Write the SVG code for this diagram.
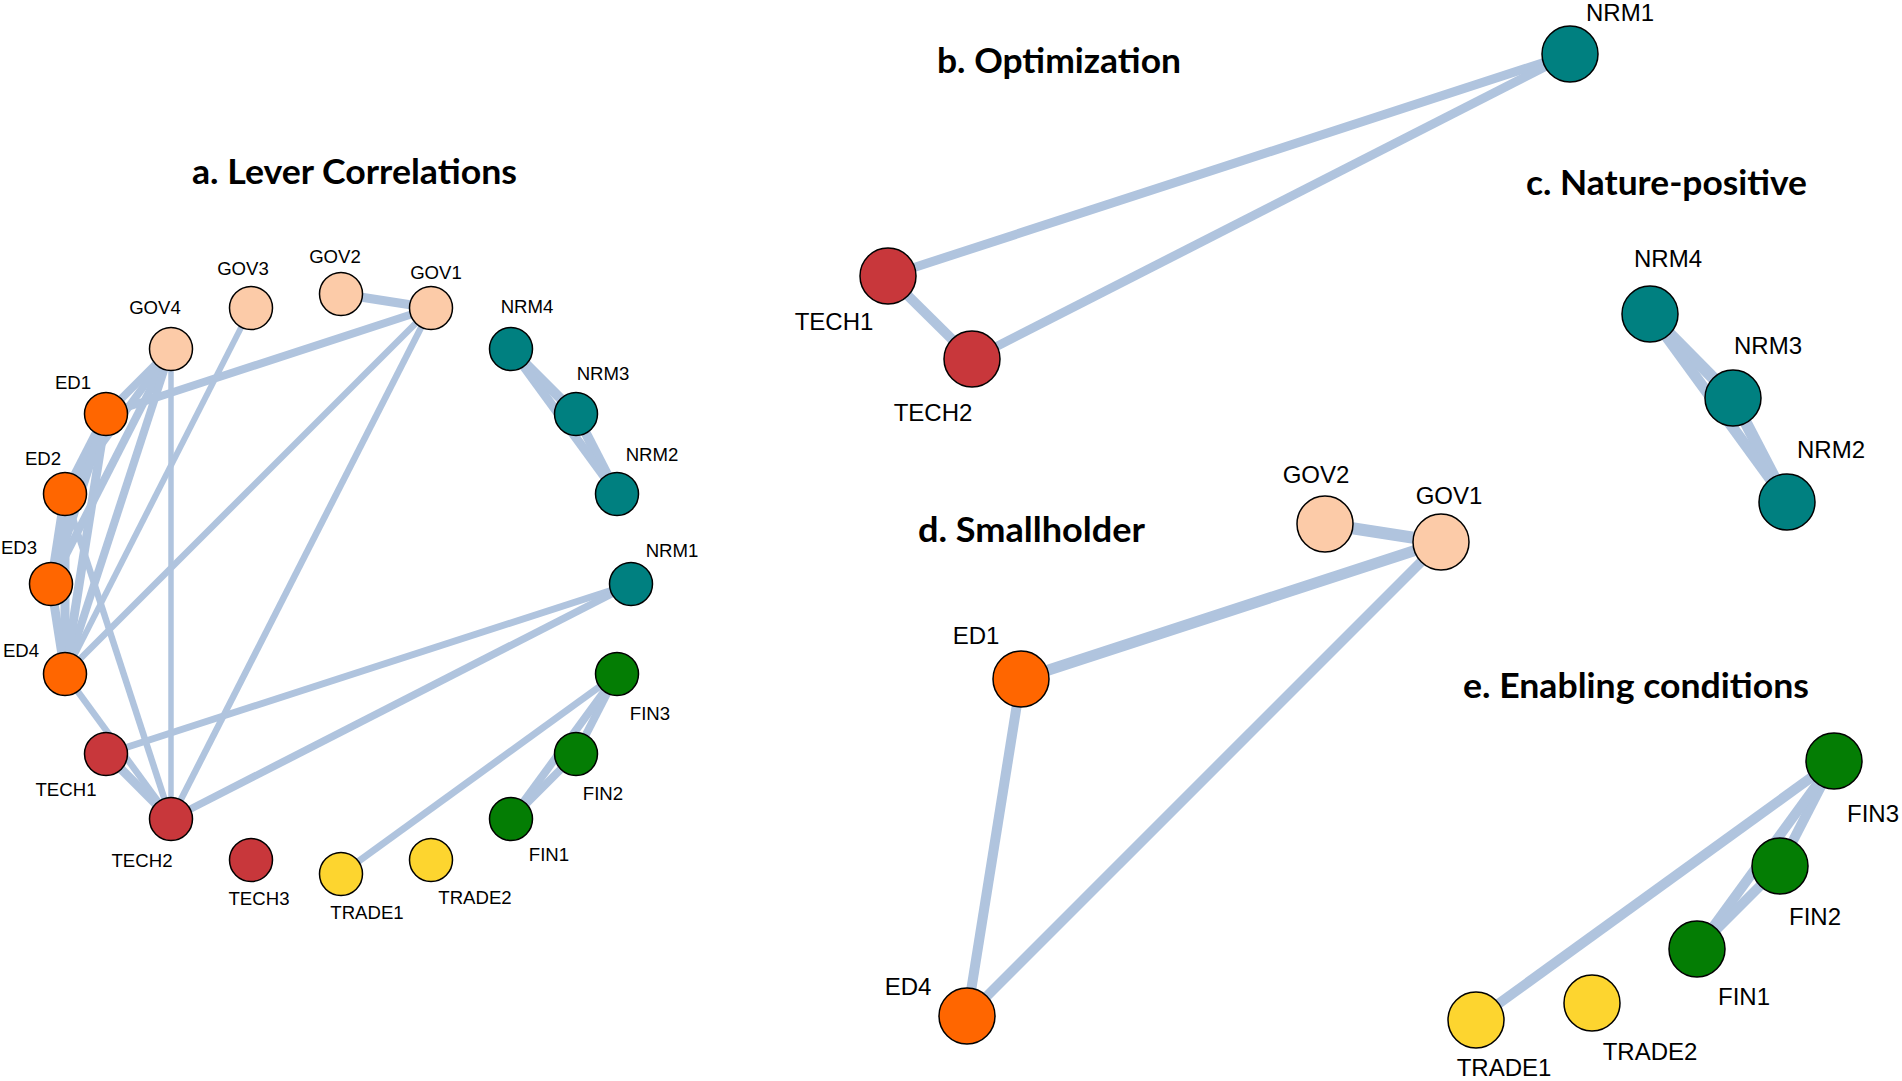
<svg xmlns="http://www.w3.org/2000/svg" width="1902" height="1081" viewBox="0 0 1902 1081">
<style>
.e{stroke:#b0c4de;fill:none}
.n{stroke:#000;stroke-width:1.5}
.gov{fill:#fccba8}.ed{fill:#ff6600}.tech{fill:#c8373b}.nrm{fill:#008080}.fin{fill:#047d04}.trade{fill:#fdd52f}
.t{font-family:Lato,"Open Sans","Liberation Sans",sans-serif;font-weight:700;font-size:34px;fill:#000}
.la{font-family:"Liberation Sans",Arial,sans-serif;font-size:18.6px;fill:#000;text-anchor:middle}
.lb{font-family:"Liberation Sans",Arial,sans-serif;font-size:24px;fill:#000;text-anchor:middle}
</style>
<rect width="1902" height="1081" fill="#fff"/>
<g id="titles">
<text class="t" x="192" y="184" textLength="325" lengthAdjust="spacingAndGlyphs">a. Lever Correlations</text>
<text class="t" x="937" y="73" textLength="244" lengthAdjust="spacingAndGlyphs">b. Optimization</text>
<text class="t" x="1526" y="195" textLength="281" lengthAdjust="spacingAndGlyphs">c. Nature-positive</text>
<text class="t" x="918" y="542" textLength="227" lengthAdjust="spacingAndGlyphs">d. Smallholder</text>
<text class="t" x="1463" y="698" textLength="346" lengthAdjust="spacingAndGlyphs">e. Enabling conditions</text>
</g>
<g id="connectors">
<!-- panel a -->
<line class="e" x1="341" y1="294" x2="431" y2="308" stroke-width="9"/>
<line class="e" x1="431" y1="308" x2="106" y2="414" stroke-width="8"/>
<line class="e" x1="431" y1="308" x2="65" y2="674" stroke-width="6.5"/>
<line class="e" x1="431" y1="308" x2="171" y2="819" stroke-width="6.5"/>
<line class="e" x1="251" y1="308" x2="65" y2="674" stroke-width="6"/>
<line class="e" x1="171" y1="349" x2="171" y2="819" stroke-width="5.5"/>
<line class="e" x1="171" y1="349" x2="106" y2="414" stroke-width="8"/>
<line class="e" x1="171" y1="349" x2="65" y2="494" stroke-width="8"/>
<line class="e" x1="171" y1="349" x2="51" y2="584" stroke-width="8"/>
<line class="e" x1="171" y1="349" x2="65" y2="674" stroke-width="8"/>
<line class="e" x1="106" y1="414" x2="65" y2="494" stroke-width="9"/>
<line class="e" x1="106" y1="414" x2="51" y2="584" stroke-width="9"/>
<line class="e" x1="106" y1="414" x2="65" y2="674" stroke-width="9"/>
<line class="e" x1="65" y1="494" x2="51" y2="584" stroke-width="9"/>
<line class="e" x1="65" y1="494" x2="65" y2="674" stroke-width="9"/>
<line class="e" x1="51" y1="584" x2="65" y2="674" stroke-width="9"/>
<line class="e" x1="65" y1="494" x2="171" y2="819" stroke-width="6.5"/>
<line class="e" x1="65" y1="674" x2="171" y2="819" stroke-width="6.5"/>
<line class="e" x1="106" y1="754" x2="171" y2="819" stroke-width="9"/>
<line class="e" x1="106" y1="754" x2="631" y2="584" stroke-width="7"/>
<line class="e" x1="171" y1="819" x2="631" y2="584" stroke-width="7.5"/>
<line class="e" x1="511" y1="349" x2="576" y2="414" stroke-width="10"/>
<line class="e" x1="576" y1="414" x2="617" y2="494" stroke-width="10"/>
<line class="e" x1="511" y1="349" x2="617" y2="494" stroke-width="9"/>
<line class="e" x1="617" y1="674" x2="576" y2="754" stroke-width="8"/>
<line class="e" x1="617" y1="674" x2="511" y2="819" stroke-width="8"/>
<line class="e" x1="576" y1="754" x2="511" y2="819" stroke-width="8"/>
<line class="e" x1="617" y1="674" x2="341" y2="874" stroke-width="7"/>
<!-- panel b -->
<line class="e" x1="888" y1="276" x2="1570" y2="54" stroke-width="9"/>
<line class="e" x1="972" y1="359" x2="1570" y2="54" stroke-width="9"/>
<line class="e" x1="888" y1="276" x2="972" y2="359" stroke-width="10"/>
<!-- panel c -->
<line class="e" x1="1650" y1="314" x2="1733" y2="398" stroke-width="12"/>
<line class="e" x1="1733" y1="398" x2="1787" y2="502" stroke-width="12"/>
<line class="e" x1="1650" y1="314" x2="1787" y2="502" stroke-width="11"/>
<!-- panel d -->
<line class="e" x1="1325" y1="524" x2="1441" y2="542" stroke-width="12"/>
<line class="e" x1="1441" y1="542" x2="1021" y2="679" stroke-width="11"/>
<line class="e" x1="1441" y1="542" x2="967" y2="1016" stroke-width="10"/>
<line class="e" x1="1021" y1="679" x2="967" y2="1016" stroke-width="10"/>
<!-- panel e -->
<line class="e" x1="1834" y1="761" x2="1476" y2="1020" stroke-width="10"/>
<line class="e" x1="1834" y1="761" x2="1780" y2="866" stroke-width="10"/>
<line class="e" x1="1834" y1="761" x2="1697" y2="949" stroke-width="10"/>
<line class="e" x1="1780" y1="866" x2="1697" y2="949" stroke-width="10"/>
</g>
<g id="panel-a">
<g id="a-GOV2"><circle class="n gov" cx="341" cy="294" r="21.5"/><text class="la" x="335" y="263">GOV2</text></g>
<g id="a-GOV1"><circle class="n gov" cx="431" cy="308" r="21.5"/><text class="la" x="436" y="279">GOV1</text></g>
<g id="a-NRM4"><circle class="n nrm" cx="511" cy="349" r="21.5"/><text class="la" x="527" y="313">NRM4</text></g>
<g id="a-NRM3"><circle class="n nrm" cx="576" cy="414" r="21.5"/><text class="la" x="603" y="380">NRM3</text></g>
<g id="a-NRM2"><circle class="n nrm" cx="617" cy="494" r="21.5"/><text class="la" x="652" y="461">NRM2</text></g>
<g id="a-NRM1"><circle class="n nrm" cx="631" cy="584" r="21.5"/><text class="la" x="672" y="557">NRM1</text></g>
<g id="a-FIN3"><circle class="n fin" cx="617" cy="674" r="21.5"/><text class="la" x="650" y="720">FIN3</text></g>
<g id="a-FIN2"><circle class="n fin" cx="576" cy="754" r="21.5"/><text class="la" x="603" y="800">FIN2</text></g>
<g id="a-FIN1"><circle class="n fin" cx="511" cy="819" r="21.5"/><text class="la" x="549" y="861">FIN1</text></g>
<g id="a-TRADE2"><circle class="n trade" cx="431" cy="860" r="21.5"/><text class="la" x="475" y="904">TRADE2</text></g>
<g id="a-TRADE1"><circle class="n trade" cx="341" cy="874" r="21.5"/><text class="la" x="367" y="919">TRADE1</text></g>
<g id="a-TECH3"><circle class="n tech" cx="251" cy="860" r="21.5"/><text class="la" x="259" y="905">TECH3</text></g>
<g id="a-TECH2"><circle class="n tech" cx="171" cy="819" r="21.5"/><text class="la" x="142" y="867">TECH2</text></g>
<g id="a-TECH1"><circle class="n tech" cx="106" cy="754" r="21.5"/><text class="la" x="66" y="796">TECH1</text></g>
<g id="a-ED4"><circle class="n ed" cx="65" cy="674" r="21.5"/><text class="la" x="21" y="657">ED4</text></g>
<g id="a-ED3"><circle class="n ed" cx="51" cy="584" r="21.5"/><text class="la" x="19" y="554">ED3</text></g>
<g id="a-ED2"><circle class="n ed" cx="65" cy="494" r="21.5"/><text class="la" x="43" y="465">ED2</text></g>
<g id="a-ED1"><circle class="n ed" cx="106" cy="414" r="21.5"/><text class="la" x="73" y="389">ED1</text></g>
<g id="a-GOV4"><circle class="n gov" cx="171" cy="349" r="21.5"/><text class="la" x="155" y="314">GOV4</text></g>
<g id="a-GOV3"><circle class="n gov" cx="251" cy="308" r="21.5"/><text class="la" x="243" y="275">GOV3</text></g>
</g>
<g id="panel-b">
<g id="b-NRM1"><circle class="n nrm" cx="1570" cy="54" r="28"/><text class="lb" x="1620" y="21">NRM1</text></g>
<g id="b-TECH1"><circle class="n tech" cx="888" cy="276" r="28"/><text class="lb" x="834" y="330">TECH1</text></g>
<g id="b-TECH2"><circle class="n tech" cx="972" cy="359" r="28"/><text class="lb" x="933" y="421">TECH2</text></g>
</g>
<g id="panel-c">
<g id="c-NRM4"><circle class="n nrm" cx="1650" cy="314" r="28"/><text class="lb" x="1668" y="267">NRM4</text></g>
<g id="c-NRM3"><circle class="n nrm" cx="1733" cy="398" r="28"/><text class="lb" x="1768" y="354">NRM3</text></g>
<g id="c-NRM2"><circle class="n nrm" cx="1787" cy="502" r="28"/><text class="lb" x="1831" y="458">NRM2</text></g>
</g>
<g id="panel-d">
<g id="d-GOV2"><circle class="n gov" cx="1325" cy="524" r="28"/><text class="lb" x="1316" y="483">GOV2</text></g>
<g id="d-GOV1"><circle class="n gov" cx="1441" cy="542" r="28"/><text class="lb" x="1449" y="504">GOV1</text></g>
<g id="d-ED1"><circle class="n ed" cx="1021" cy="679" r="28"/><text class="lb" x="976" y="644">ED1</text></g>
<g id="d-ED4"><circle class="n ed" cx="967" cy="1016" r="28"/><text class="lb" x="908" y="995">ED4</text></g>
</g>
<g id="panel-e">
<g id="e-FIN3"><circle class="n fin" cx="1834" cy="761" r="28"/><text class="lb" x="1873" y="822">FIN3</text></g>
<g id="e-FIN2"><circle class="n fin" cx="1780" cy="866" r="28"/><text class="lb" x="1815" y="925">FIN2</text></g>
<g id="e-FIN1"><circle class="n fin" cx="1697" cy="949" r="28"/><text class="lb" x="1744" y="1005">FIN1</text></g>
<g id="e-TRADE2"><circle class="n trade" cx="1592" cy="1003" r="28"/><text class="lb" x="1650" y="1060">TRADE2</text></g>
<g id="e-TRADE1"><circle class="n trade" cx="1476" cy="1020" r="28"/><text class="lb" x="1504" y="1076">TRADE1</text></g>
</g>
</svg>
